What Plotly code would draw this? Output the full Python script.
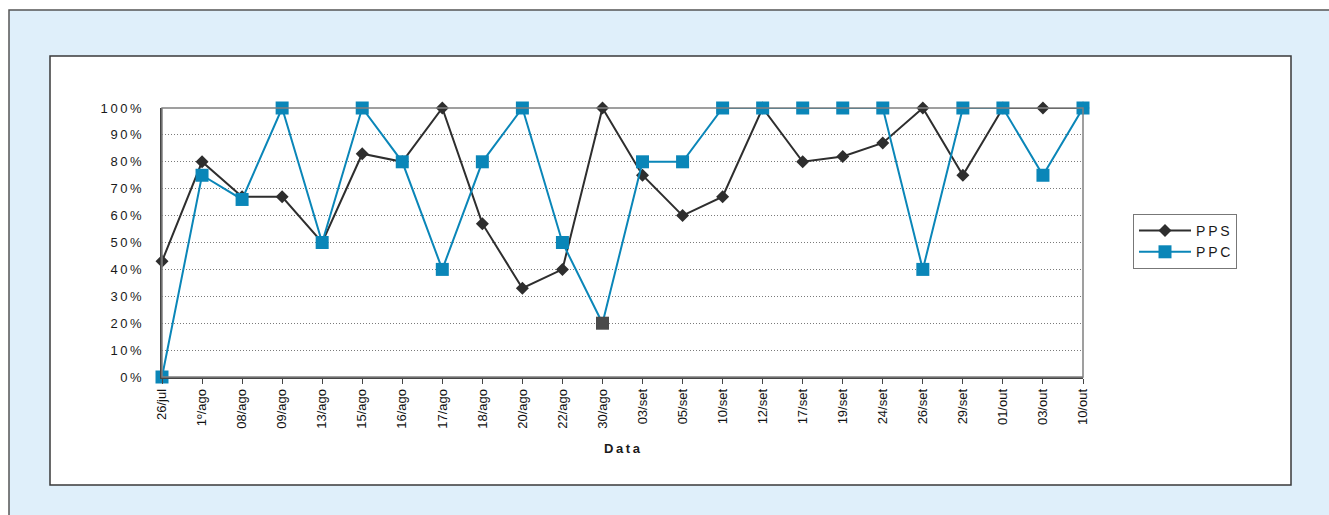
import plotly.graph_objects as go

# Survey dates (category axis)
datas = ["26/jul", "1º/ago", "08/ago", "09/ago", "13/ago", "15/ago", "16/ago", "17/ago",
         "18/ago", "20/ago", "22/ago", "30/ago", "03/set", "05/set", "10/set", "12/set",
         "17/set", "19/set", "24/set", "26/set", "29/set", "01/out", "03/out", "10/out"]

# Percentages per date
pps = [43, 80, 67, 67, 50, 83, 80, 100, 57, 33, 40, 100, 75, 60, 67, 100,
       80, 82, 87, 100, 75, 100, 100, 100]
ppc = [0, 75, 66, 100, 50, 100, 80, 40, 80, 100, 50, 20, 80, 80, 100, 100,
       100, 100, 100, 40, 100, 100, 75, 100]

y_ticks = [0, 10, 20, 30, 40, 50, 60, 70, 80, 90, 100]

TS = "\u2009"   # thin space for tracked labels


def tracked(s, sp=TS):
    return sp.join(list(s))


BLUE = "#0a86b8"
DARK = "#2e2e2e"
ppc_colors = [BLUE] * len(ppc)
ppc_colors[datas.index("30/ago")] = "#4a4a4a"

W, H = 1329, 515
L, R, T, B = 162, 1083, 108, 377
pw, ph = R - L, B - T


def px(x):
    return (x - L) / pw


def py(y):
    return (B - y) / ph


fig = go.Figure()
fig.add_trace(go.Scatter(
    x=datas, y=pps, name=tracked("PPS"), mode="lines+markers",
    line=dict(color=DARK, width=2),
    marker=dict(symbol="diamond", size=10, color=DARK),
    cliponaxis=False,
))
fig.add_trace(go.Scatter(
    x=datas, y=ppc, name=tracked("PPC"), mode="lines+markers",
    line=dict(color=BLUE, width=2),
    marker=dict(symbol="square", size=13, color=ppc_colors),
    cliponaxis=False,
))

shapes = [
    # outer light-blue panel
    dict(type="rect", xref="paper", yref="paper", layer="below",
         x0=px(9), x1=px(1340), y0=py(530), y1=py(10),
         fillcolor="#dfeffa", line=dict(color="#555555", width=1.5)),
    # white chart box
    dict(type="rect", xref="paper", yref="paper", layer="below",
         x0=px(50), x1=px(1291), y0=py(485), y1=py(56),
         fillcolor="#ffffff", line=dict(color="#3a3a3a", width=1.5)),
    # plot-area frame (top/right)
    dict(type="rect", xref="paper", yref="paper", layer="above",
         x0=0, x1=1, y0=0, y1=1,
         line=dict(color="#808080", width=1.5)),
]

fig.update_layout(
    width=W, height=H,
    margin=dict(l=L, r=W - R, t=T, b=H - B),
    paper_bgcolor="#ffffff",
    plot_bgcolor="#d9dbdd",
    font=dict(family="Liberation Sans, Arial, sans-serif", color="#1a1a1a"),
    shapes=shapes,
    showlegend=True,
    legend=dict(
        x=px(1133), y=py(214), xanchor="left", yanchor="top",
        bgcolor="#ffffff", bordercolor="#777777", borderwidth=1,
        font=dict(size=14, color="#1a1a1a"),
        itemwidth=52, tracegroupgap=0,
    ),
    annotations=[dict(
        text="<b>" + tracked("Data") + "</b>", xref="paper", yref="paper",
        x=0.5, y=py(448), xanchor="center", yanchor="middle",
        showarrow=False, font=dict(size=13, color="#1a1a1a"),
    )],
)

fig.update_xaxes(
    type="category", range=[0, len(datas) - 1],
    showgrid=False, zeroline=False,
    showline=True, linecolor="#444444", linewidth=1.5,
    ticks="outside", ticklen=5, tickcolor="#444444",
    tickangle=-90,
    tickfont=dict(family="Liberation Sans, Arial", size=13, color="#111111"),
)
fig.update_yaxes(
    range=[0, 100],
    tickvals=y_ticks,
    ticktext=[tracked(f"{v}%") for v in y_ticks],
    showgrid=True, gridcolor="#7a7a7a", gridwidth=1, griddash="1px,2px",
    zeroline=False,
    showline=True, linecolor="#444444", linewidth=1.5,
    ticks="", ticklabelstandoff=16,
    tickfont=dict(size=13, color="#1a1a1a"),
)

fig.write_html("out.html")
